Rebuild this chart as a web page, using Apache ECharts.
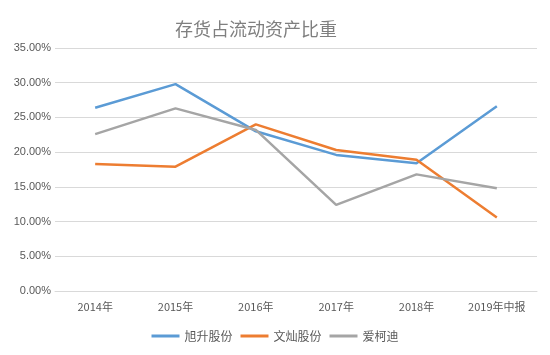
<!DOCTYPE html>
<html><head><meta charset="utf-8">
<script src="https://cdn.jsdelivr.net/npm/echarts@6/dist/echarts.min.js"></script>
<style>html,body{margin:0;padding:0;background:#fff}#c{width:550px;height:355px}</style>
</head><body><div id="c"></div>
<script>
var categories = ['2014年','2015年','2016年','2017年','2018年','2019年中报'];
var xusheng = [26.4, 29.8, 23.0, 19.6, 18.4, 26.6];
var wencan = [18.3, 17.9, 24.0, 20.3, 18.9, 10.6];
var aikedi = [22.6, 26.3, 23.2, 12.4, 16.8, 14.8];
var seriesNames = ['旭升股份','文灿股份','爱柯迪'];
var colors = ['#5B9BD5','#ED7D31','#A5A5A5'];
var chart = echarts.init(document.getElementById('c'));
function mk(name, data, color){
  return {name:name, type:'line', data:data, symbol:'none', smooth:false,
    lineStyle:{width:2.5,color:color}, itemStyle:{color:color}};
}
chart.setOption({
  animation:false,
  title:{text:'存货占流动资产比重', left:170, top:15,
    textStyle:{fontFamily:'Noto Sans CJK SC', fontSize:18, fontWeight:'normal', color:'#7f7f7f'}},
  grid:{left:55, right:13, top:48, bottom:64},
  legend:{bottom:8, left:'center', itemWidth:28, itemHeight:3, itemGap:8, icon:'rect',
    textStyle:{fontFamily:'Noto Sans CJK SC', fontSize:12, color:'#595959'},
    data:seriesNames},
  xAxis:{type:'category', data:categories, boundaryGap:true,
    axisLine:{lineStyle:{color:'#d9d9d9'}}, axisTick:{show:false},
    axisLabel:{color:'#595959', fontSize:11, margin:10, fontFamily:'Noto Sans CJK SC'}},
  yAxis:{type:'value', min:0, max:35, interval:5,
    axisLine:{show:false}, axisTick:{show:false},
    splitLine:{lineStyle:{color:'#d9d9d9'}},
    axisLabel:{color:'#595959', fontSize:11, margin:4, formatter:function(v){return v.toFixed(2)+'%';}}},
  series:[mk(seriesNames[0],xusheng,colors[0]), mk(seriesNames[1],wencan,colors[1]), mk(seriesNames[2],aikedi,colors[2])]
});
</script></body></html>
